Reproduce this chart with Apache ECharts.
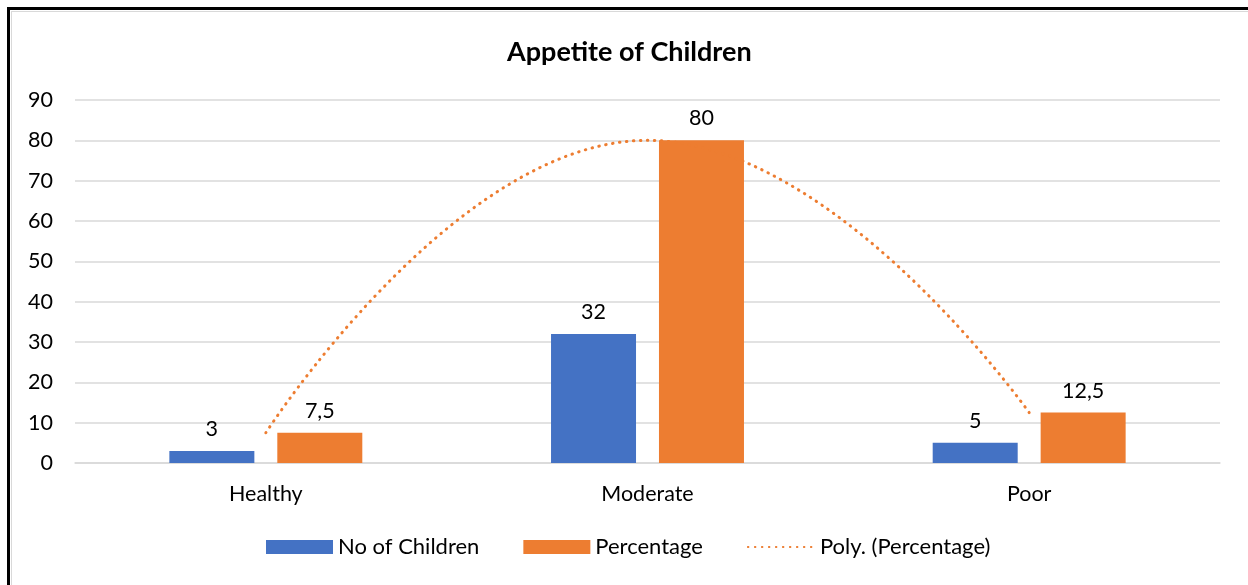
<!DOCTYPE html>
<html>
<head>
<meta charset="utf-8">
<script src="https://cdn.jsdelivr.net/npm/echarts@6/dist/echarts.min.js"></script>
<style>
  html, body { margin: 0; padding: 0; background: #fff; }
  #frame { position: absolute; left: 7px; top: 7px; width: 1260px; height: 600px;
           border-top: 3px solid #000; border-left: 3px solid #000; }
  #inner { position: absolute; left: 1px; top: 1px; right: 0; bottom: 0;
           border-top: 1.5px solid #d9d9d9; border-left: 1.5px solid #d9d9d9; }
  #chart { position: absolute; left: 0; top: 0; width: 1248px; height: 585px; }
</style>
</head>
<body>
<div id="frame"><div id="inner"></div></div>
<div id="chart"></div>
<script>
const title = 'Appetite of Children';
const categories = ['Healthy', 'Moderate', 'Poor'];
const noOfChildren = [3, 32, 5];
const percentage = [7.5, 80, 12.5];
const yTicks = { min: 0, max: 90, interval: 10 };

const FONT = 'Lato, "Open Sans", sans-serif';
const FS = 21.5;
const fmt = p => String(p.value).replace('.', ',');

const chart = echarts.init(document.getElementById('chart'), null, { renderer: 'canvas' });
chart.setOption({
  backgroundColor: 'transparent',
  animation: false,
  title: {
    text: title, left: 502, top: 34,
    textStyle: { fontFamily: FONT, fontSize: 27, fontWeight: 'bold', color: '#000' }
  },
  grid: { left: 75, right: 28, top: 100, bottom: 122, containLabel: false },
  legend: {
    bottom: 22, left: 261, itemWidth: 67, itemHeight: 14, itemGap: 44,
    textStyle: { fontFamily: FONT, fontSize: 22, color: '#000' },
    data: [
      { name: 'No of Children', icon: 'rect' },
      { name: 'Percentage', icon: 'rect' },
      { name: 'Poly. (Percentage)', itemStyle: { opacity: 0 } }
    ]
  },
  xAxis: {
    type: 'category', data: categories,
    axisLine: { lineStyle: { color: '#d9d9d9', width: 1.5 } },
    axisTick: { show: false },
    axisLabel: { fontFamily: FONT, fontSize: FS, color: '#000', margin: 20 }
  },
  yAxis: {
    type: 'value', min: yTicks.min, max: yTicks.max, interval: yTicks.interval,
    axisLine: { show: false }, axisTick: { show: false },
    splitLine: { lineStyle: { color: '#d9d9d9', width: 1.5 } },
    axisLabel: { fontFamily: FONT, fontSize: FS, color: '#000', margin: 22 }
  },
  series: [
    {
      name: 'No of Children', type: 'bar', data: noOfChildren,
      barWidth: 85, barGap: '27%',
      itemStyle: { color: '#4472C4' },
      label: { show: true, position: 'top', distance: 11, formatter: fmt,
               fontFamily: FONT, fontSize: FS, color: '#000' }
    },
    {
      name: 'Percentage', type: 'bar', data: percentage,
      barWidth: 85,
      itemStyle: { color: '#ED7D31' },
      label: { show: true, position: 'top', distance: 11, formatter: fmt,
               fontFamily: FONT, fontSize: FS, color: '#000' }
    },
    {
      name: 'Poly. (Percentage)', type: 'line', data: percentage,
      smooth: 0.5, symbol: 'none', z: 5,
      itemStyle: { color: '#ED7D31' },
      lineStyle: { color: '#ED7D31', width: 3, type: [0.5, 6.5], cap: 'round' }
    }
  ]
});
</script>
</body>
</html>
